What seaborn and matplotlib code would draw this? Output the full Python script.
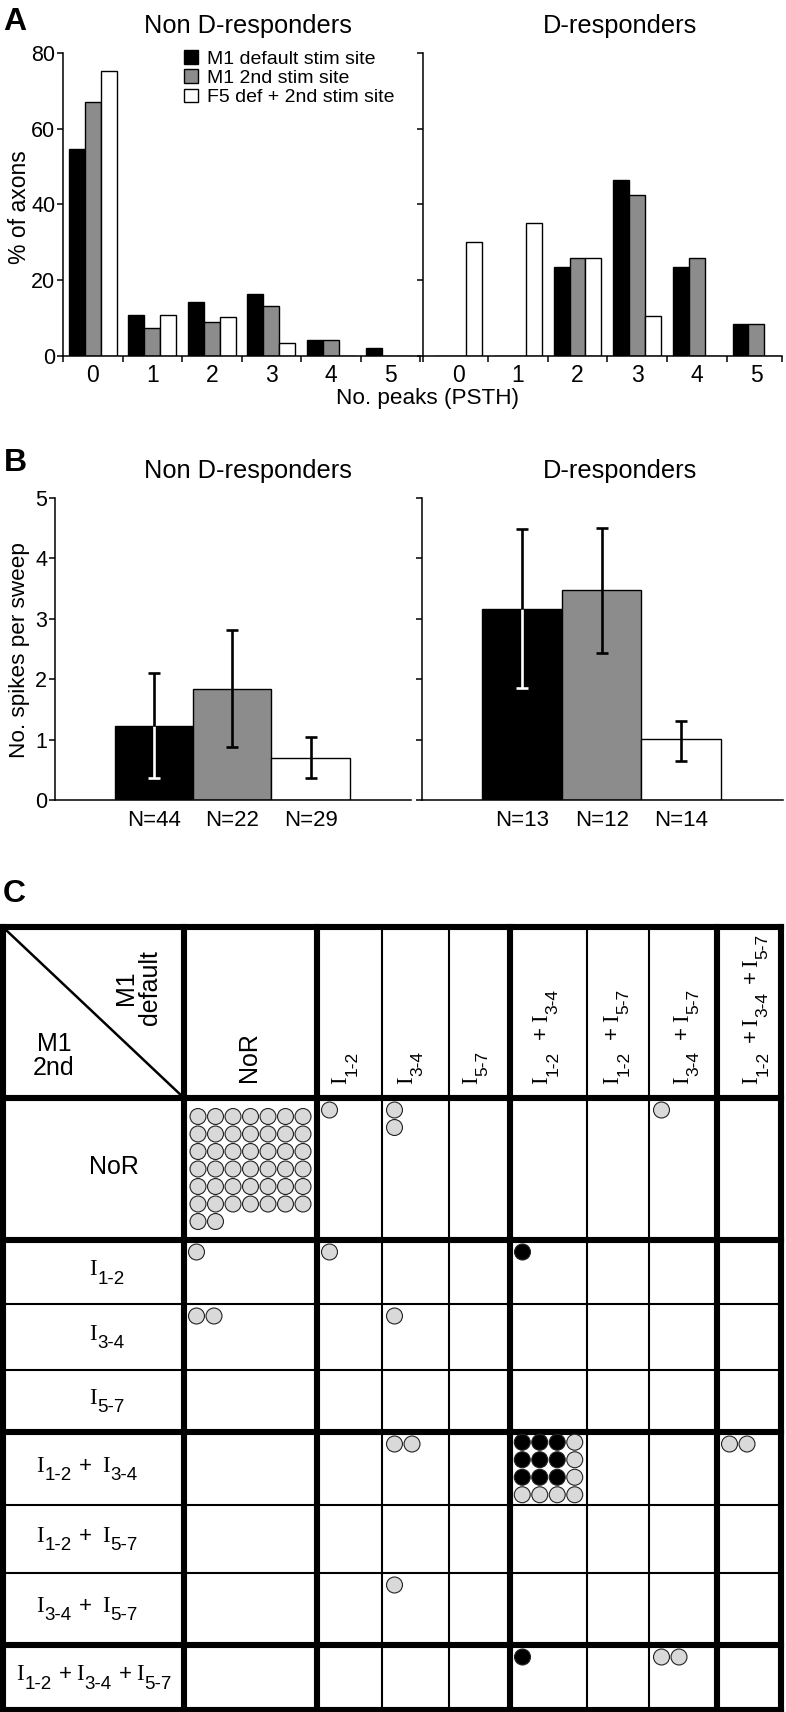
import numpy as np
import pandas as pd
import matplotlib
matplotlib.use("Agg")
import matplotlib.pyplot as plt
from matplotlib.patches import Patch, Rectangle
import seaborn as sns

# ---------------- data ----------------
peaks = ["0", "1", "2", "3", "4", "5"]
sites = ["M1 default stim site", "M1 2nd stim site", "F5 def + 2nd stim site"]
nonD_default = [54.6, 10.7, 14.3, 16.4, 4.3, 2.2]
nonD_second = [67.0, 7.5, 9.0, 13.2, 4.3, 0.0]
nonD_f5 = [75.2, 10.9, 10.4, 3.4, 0.0, 0.0]
D_default = [0.0, 0.0, 23.6, 46.6, 23.6, 8.5]
D_second = [0.0, 0.0, 25.8, 42.5, 26.0, 8.5]
D_f5 = [30.0, 35.2, 25.8, 10.5, 0.0, 0.0]

spike_groups = ["M1 default", "M1 2nd", "F5"]
nonD_n = ["N=44", "N=22", "N=29"]
nonD_mean = [1.23, 1.83, 0.70]
nonD_lo = [0.36, 0.87, 0.36]
nonD_hi = [2.10, 2.82, 1.05]
D_n = ["N=13", "N=12", "N=14"]
D_mean = [3.16, 3.48, 1.01]
D_lo = [1.85, 2.43, 0.64]
D_hi = [4.49, 4.50, 1.31]

resp_types = ["NoR", "I1-2", "I3-4", "I5-7", "I1-2 + I3-4", "I1-2 + I5-7",
              "I3-4 + I5-7", "I1-2 + I3-4 + I5-7"]
# table C: row = M1 2nd response, col = M1 default response
cell_row = [0, 0, 0, 0, 1, 1, 1, 2, 2, 4, 4, 4, 6, 7, 7]
cell_col = [0, 1, 2, 6, 0, 1, 4, 0, 2, 2, 4, 7, 2, 4, 6]
cell_black = [0, 0, 0, 0, 0, 0, 1, 0, 0, 0, 9, 0, 0, 1, 0]
cell_gray = [44, 1, 2, 1, 1, 1, 0, 2, 1, 2, 7, 2, 1, 0, 2]
cell_ncol = [7, 4, 1, 4, 4, 4, 4, 4, 4, 4, 4, 4, 4, 4, 4]

# ---------------- style ----------------
sns.set_theme(style="ticks")
plt.rcParams['font.family'] = ['Liberation Sans', 'DejaVu Sans']
plt.rcParams['axes.linewidth'] = 1.1
plt.rcParams['xtick.major.width'] = 1.1
plt.rcParams['ytick.major.width'] = 1.1
plt.rcParams['axes.edgecolor'] = 'black'
plt.rcParams['xtick.color'] = 'black'
plt.rcParams['ytick.color'] = 'black'
plt.rcParams['text.color'] = 'black'

W, H = 786, 1712
fig = plt.figure(figsize=(W / 100, H / 100), dpi=100)
renderer = fig.canvas.get_renderer()

# full-figure pixel axes for panel C and free text
ax_c = fig.add_axes([0, 0, 1, 1])
ax_c.axis('off')


def add_ax(x0, y0, x1, y1):
    return fig.add_axes([x0 / W, 1 - y1 / H, (x1 - x0) / W, (y1 - y0) / H])


bar_colors = ['black', '#8c8c8c', 'white']


def peaks_panel(ax, series, xlim, show_labels):
    df = pd.DataFrame({'peaks': peaks * 3,
                       'site': np.repeat(sites, len(peaks)),
                       'pct': np.concatenate(series)})
    sns.barplot(data=df, x='peaks', y='pct', hue='site', hue_order=sites, order=peaks,
                palette=bar_colors, saturation=1, width=0.8, edgecolor='black',
                linewidth=1.0, errorbar=None, legend=False, ax=ax)
    ax.set_xlim(*xlim)
    ax.set_ylim(0, 80)
    bounds = [xlim[0]] + list(np.arange(0.5, len(peaks) - 0.5, 1)) + [xlim[1]]
    ax.set_xticks(bounds)
    ax.set_xticklabels([])
    ax.set_xticks(range(len(peaks)), minor=True)
    ax.set_xticklabels(peaks, minor=True)
    ax.tick_params(axis='x', which='major', length=4.5, direction='out')
    ax.tick_params(axis='x', which='minor', length=0, pad=6, labelsize=16.5)
    ax.set_yticks([0, 20, 40, 60, 80])
    ax.tick_params(axis='y', length=4.5, pad=1, labelsize=15.5, labelleft=show_labels)
    ax.set_xlabel('')
    ax.set_ylabel('')
    sns.despine(ax=ax)


def spikes_panel(ax, means, lo, hi, nlabels, show_labels):
    df = pd.DataFrame({'group': spike_groups, 'mean': means})
    sns.barplot(data=df, x='group', y='mean', hue='group', hue_order=spike_groups,
                order=spike_groups, palette=bar_colors, saturation=1, width=1.0,
                edgecolor='black', linewidth=1.0, errorbar=None, legend=False, ax=ax)
    cw = 0.076
    for i in range(len(means)):
        low_col = 'white' if bar_colors[i] == 'black' else 'black'
        ax.vlines(i, lo[i], means[i], color=low_col, lw=1.9, zorder=4)
        ax.hlines(lo[i], i - cw, i + cw, color=low_col, lw=1.9, zorder=4)
        ax.vlines(i, means[i], hi[i], color='black', lw=1.9, zorder=4)
        ax.hlines(hi[i], i - cw, i + cw, color='black', lw=1.9, zorder=4)
    ax.set_xlim(-1.26, 3.28)
    ax.set_ylim(0, 5)
    ax.set_xticks(range(len(means)))
    ax.set_xticklabels(nlabels)
    ax.tick_params(axis='x', length=0, pad=7, labelsize=16)
    ax.set_yticks(range(6))
    ax.tick_params(axis='y', length=4.5, pad=1, labelsize=15.5, labelleft=show_labels)
    ax.set_xlabel('')
    ax.set_ylabel('')
    sns.despine(ax=ax)


# ---------------- panel A ----------------
axA1 = add_ax(63, 53, 420, 356)
peaks_panel(axA1, [nonD_default, nonD_second, nonD_f5], (-0.5, 5.5), True)
axA2 = add_ax(423, 53, 782, 356)
peaks_panel(axA2, [D_default, D_second, D_f5], (-0.59, 5.43), False)

handles = [Patch(facecolor=c, edgecolor='black', linewidth=1.0, label=s)
           for c, s in zip(bar_colors, sites)]
axA1.legend(handles=handles, loc='upper left', bbox_to_anchor=(184 / W, 1 - 50 / H),
            bbox_transform=fig.transFigure, frameon=False, fontsize=14,
            handlelength=0.72, handleheight=0.72, handletextpad=0.45,
            labelspacing=0.08, borderpad=0, borderaxespad=0)

# ---------------- panel B ----------------
axB1 = add_ax(55, 498, 411, 800)
spikes_panel(axB1, nonD_mean, nonD_lo, nonD_hi, nonD_n, True)
axB2 = add_ax(422, 498, 783, 800)
spikes_panel(axB2, D_mean, D_lo, D_hi, D_n, False)

# ---------------- free text ----------------
ax_c.text(3, 22, "A", fontsize=23, fontweight='bold', va='center', ha='left')
ax_c.text(4, 463, "B", fontsize=23, fontweight='bold', va='center', ha='left')
ax_c.text(3, 894, "C", fontsize=23, fontweight='bold', va='center', ha='left')
for yy in (26, 471):
    ax_c.text(248, yy, "Non D-responders", fontsize=18.3, ha='center', va='center')
    ax_c.text(620, yy, "D-responders", fontsize=18.3, ha='center', va='center')
ax_c.text(20, 207, "% of axons", fontsize=16.5, rotation=90, ha='center', va='center')
ax_c.text(20, 650, "No. spikes per sweep", fontsize=16.2, rotation=90, ha='center', va='center')
ax_c.text(427, 398, "No. peaks (PSTH)", fontsize=16.2, ha='center', va='center')

# ---------------- panel C table ----------------
col_edges = [3, 184, 317, 382, 449, 510, 587, 649, 717, 781]
row_edges = [927, 1098, 1240, 1304, 1370, 1432, 1505, 1573, 1645, 1710]
n_terms = [0 if t == "NoR" else len(t.split(" + ")) for t in resp_types]
thick_idx = {0, 1, len(resp_types) + 1}
for i in range(1, len(resp_types)):
    if n_terms[i] != n_terms[i - 1]:
        thick_idx.add(i + 1)

THIN, THICK = 1.5, 4.4
for thick in (False, True):
    for i, yv in enumerate(row_edges):
        if (i in thick_idx) == thick:
            ax_c.plot([col_edges[0], col_edges[-1]], [yv, yv], color='black',
                      lw=THICK if thick else THIN, solid_capstyle='projecting', zorder=5)
    for i, xv in enumerate(col_edges):
        if (i in thick_idx) == thick:
            ax_c.plot([xv, xv], [row_edges[0], row_edges[-1]], color='black',
                      lw=THICK if thick else THIN, solid_capstyle='projecting', zorder=5)
# diagonal in corner cell
ax_c.plot([col_edges[0] + 3, col_edges[1]], [row_edges[0] + 3, row_edges[1]],
          color='black', lw=1.8, zorder=5)
ax_c.text(138, 988, "M1\ndefault", rotation=90, fontsize=18, ha='center', va='center',
          multialignment='center', linespacing=1.05)
ax_c.text(54, 1056, "M1\n2nd", fontsize=18, ha='center', va='center',
          multialignment='center', linespacing=1.05)

serif = ['Liberation Serif', 'DejaVu Serif']
sans = ['Liberation Sans', 'DejaVu Sans']


def pieces_of(label):
    out = []
    for k, term in enumerate(label.split(" + ")):
        if k:
            out.append(("+", "plus"))
        out.append((term[0], "main"))
        out.append((term[1:], "sub"))
    return out


def rich(label, x, y, vertical, drop, sub_size, target, frac_before, clip=None):
    sizes = {'main': (serif, 16.5), 'sub': (sans, sub_size), 'plus': (sans, 16)}
    items = []
    for s, kind in pieces_of(label):
        fam, sz = sizes[kind]
        t = ax_c.text(0, 0, s, ha='left', va='baseline', rotation_mode='anchor',
                      zorder=3, family=fam, size=sz)
        w = t.get_window_extent(renderer).width
        items.append((t, kind, w))
    widths = sum(w for _, _, w in items)
    n_plus = sum(1 for _, k, _ in items if k == 'plus')
    spare = max(target - widths - 0.5 * (len(items) - 1 - 2 * n_plus), 0) if n_plus else 0
    per_plus = spare / n_plus if n_plus else 0
    gaps = []
    for i in range(len(items) - 1):
        a, b = items[i][1], items[i + 1][1]
        if b == 'plus':
            gaps.append(per_plus * frac_before)
        elif a == 'plus':
            gaps.append(per_plus * (1 - frac_before))
        else:
            gaps.append(0.5)
    total = widths + sum(gaps)
    pos = y if vertical else x - total / 2
    for i, (t, kind, w) in enumerate(items):
        off = drop if kind == 'sub' else 0
        g = gaps[i] if i < len(gaps) else 0
        if vertical:
            t.set_rotation(90)
            t.set_position((x + off, pos))
            pos -= w + g
        else:
            t.set_position((pos, y + off))
            pos += w + g
        if clip is not None:
            t.set_clip_path(clip)


# row labels (M1 2nd)
row_label_x = [114, 107, 107, 107, 87, 87, 87, 94]
row_label_target = [0, 0, 0, 0, 101, 101, 101, 155]
for r, label in enumerate(resp_types):
    cy = (row_edges[r + 1] + row_edges[r + 2]) / 2
    if label == "NoR":
        ax_c.text(row_label_x[r], cy - 2, label, fontsize=18, ha='center', va='center')
    else:
        rich(label, row_label_x[r], cy + 3, False, 8.5, 13.5,
             row_label_target[r], 0.4 if n_terms[r] == 2 else 0.6)

# column headers (M1 default)
clip = Rectangle((col_edges[0], row_edges[0]), col_edges[-1] - col_edges[0],
                 row_edges[1] - row_edges[0], transform=ax_c.transData)
col_dx = [-2, -3.5, -3.5, -2.5, -1.5, 0, 5, 8]
col_label_target = [0, 0, 0, 0, 95, 95, 95, 150]
for c, label in enumerate(resp_types):
    cx = (col_edges[c + 1] + col_edges[c + 2]) / 2
    if label == "NoR":
        ax_c.text(cx + col_dx[c], 1082, label, rotation=90, fontsize=18,
                  ha='center', va='bottom')
    else:
        rich(label, cx + col_dx[c], 1084, True, 10.5, 12.5,
             col_label_target[c], 0.75, clip)

# dots
step = 17.5
dots = []
for k in range(len(cell_row)):
    r, c, nb, ng = cell_row[k], cell_col[k], cell_black[k], cell_gray[k]
    x0, x1 = col_edges[c + 1], col_edges[c + 2]
    y0, y1 = row_edges[r + 1], row_edges[r + 2]
    grid = []
    if nb and ng:
        m = int(np.ceil(np.sqrt(nb)))
        grid += [(i % m, i // m, 'black') for i in range(nb)]
        extra = [(m, j) for j in range(m)] + [(j, m) for j in range(m + 1)]
        grid += [(extra[i][0], extra[i][1], 'gray') for i in range(ng)]
    else:
        kind = 'black' if nb else 'gray'
        nc = cell_ncol[k]
        grid += [(i % nc, i // nc, kind) for i in range(nb + ng)]
    ncx = max(g[0] for g in grid) + 1
    ncy = max(g[1] for g in grid) + 1
    if nb + ng >= 16:
        fx = (x0 + x1) / 2 - (ncx - 1) * step / 2
        fy = (y0 + y1) / 2 - (ncy - 1) * step / 2
    else:
        fx, fy = x0 + 12.5, y0 + 12
    for gx, gy, kind in grid:
        dots.append({'x': fx + gx * step, 'y': fy + gy * step, 'kind': kind})
df_dots = pd.DataFrame(dots)
sns.scatterplot(data=df_dots, x='x', y='y', hue='kind',
                palette={'black': 'black', 'gray': '#d9d9d9'}, s=132,
                edgecolor='#222222', linewidth=0.8, legend=False, ax=ax_c, zorder=6)
ax_c.set_xlim(0, W)
ax_c.set_ylim(H, 0)
ax_c.axis('off')

fig.savefig("out.png", dpi=100)
